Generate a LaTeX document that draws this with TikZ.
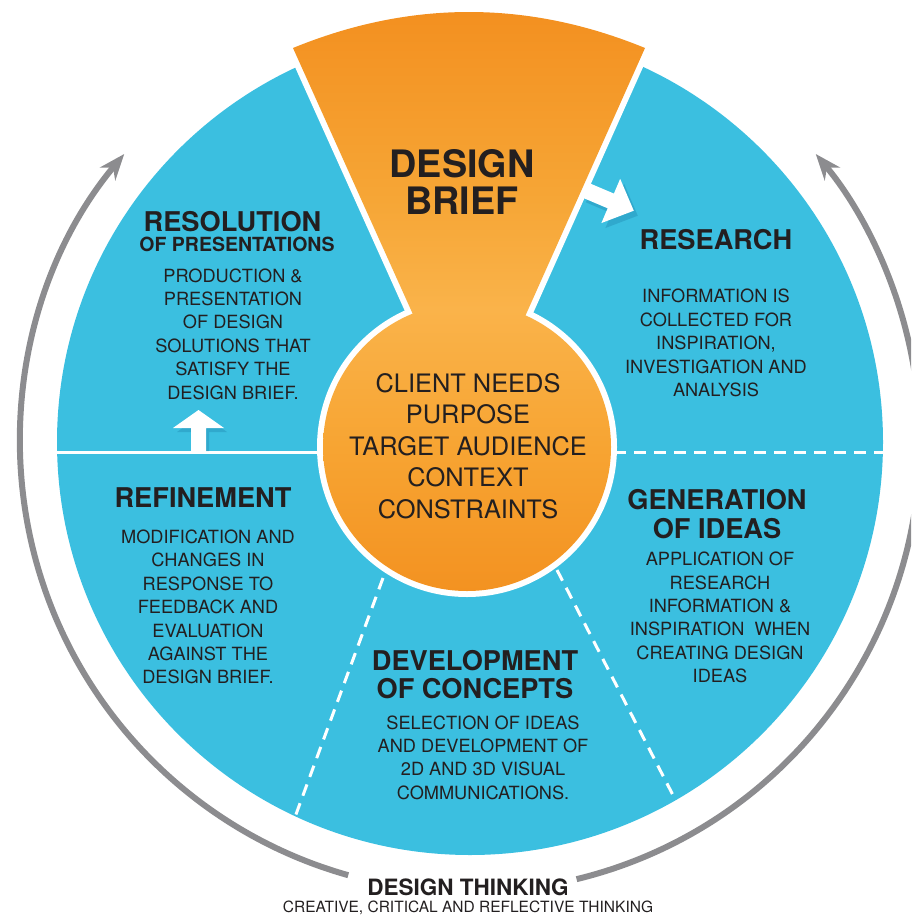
\documentclass[tikz,border=0pt]{standalone}
\usepackage{fontspec}
\setmainfont{TeX Gyre Heros}
\usetikzlibrary{arrows.meta}
\definecolor{cyanbg}{RGB}{59,191,224}
\definecolor{cyanshadow}{RGB}{30,130,170}
\definecolor{txt}{RGB}{35,31,32}
\definecolor{arcgrey}{RGB}{140,140,143}
\definecolor{orA}{RGB}{243,144,32}
\definecolor{orD}{RGB}{246,166,54}
\definecolor{orB}{RGB}{250,179,74}
\definecolor{orM}{RGB}{247,164,50}
\definecolor{orC}{RGB}{243,146,33}
\pgfdeclareverticalshading{orgrad}{100bp}{color(0bp)=(orC); color(25bp)=(orC); color(37.2bp)=(orM); color(49.3bp)=(orB); color(58.8bp)=(orD); color(75bp)=(orA); color(100bp)=(orA)}
\tikzset{
  head/.style={font=\fontsize{27.2}{28.5}\selectfont\bfseries, text=txt, inner sep=0pt, align=center},
  subhead/.style={font=\fontsize{19.5}{21}\selectfont\bfseries, text=txt, inner sep=0pt},
  bigtitle/.style={font=\fontsize{37.8}{37}\selectfont\bfseries, text=txt, inner sep=0pt, align=center},
  body/.style={font=\fontsize{18.2}{23.4}\selectfont, text=txt, inner sep=0pt, align=center},
  core/.style={font=\fontsize{25.4}{31.6}\selectfont, text=txt, inner sep=0pt, align=center},
  dthead/.style={font=\fontsize{22.5}{24}\selectfont\bfseries, text=txt, inner sep=0pt},
  dtsub/.style={font=\fontsize{15.5}{17}\selectfont, text=txt, inner sep=0pt},
  divider/.style={white, line width=3pt},
  dashdiv/.style={white, line width=3pt, dash pattern=on 12pt off 8pt},
  cyclearrow/.style={arcgrey, line width=6pt, -{Stealth[length=26pt,width=20pt]}},
  orshade/.style={shading=orgrad},
  blockarrow/.style={fill=white},
  blockshadow/.style={fill=cyanshadow, opacity=0.35},
}
\begin{document}
\begin{tikzpicture}[x=1pt,y=-1pt]
\useasboundingbox (0,0) rectangle (911,918);
\clip (0,0) rectangle (911,918);
\coordinate (C) at (470,442);
% blue disc
\fill[cyanbg] (C) circle[radius=413];
% dividers
\coordinate (hl) at (57,452);
\coordinate (ol) at (320,452);
\coordinate (or) at (614,452);
\coordinate (hr) at (883,452);
\coordinate (d1a) at (383,578);
\coordinate (d1b) at (295,817);
\coordinate (d2a) at (557,570);
\coordinate (d2b) at (676,801);
\draw[divider] (hl) -- (ol);
\draw[dashdiv] (or) -- (hr);
\draw[dashdiv] (d1a) -- (d1b);
\draw[dashdiv] (d2a) -- (d2b);
% orange funnel + circle: white borders
\draw[white, line width=12pt, line join=miter]
  (293,48) .. controls (410,0) and (528,0) .. (645,48) -- (519,330) -- (420,330) -- cycle;
\draw[white, line width=12pt] (467,447) circle[radius=144];
% right block arrow (brief -> research)
\begin{scope}[shift={(589,195)}, rotate=-23]
  \fill[blockshadow] (0,-8) -- (28,-8) -- (28,-24) -- (53,0) -- (28,24) -- (28,8) -- (0,8) -- cycle;
\end{scope}
\begin{scope}[shift={(585,190)}, rotate=-23]
  \fill[blockarrow] (-8,-8) -- (28,-8) -- (28,-24) -- (53,0) -- (28,24) -- (28,8) -- (-8,8) -- cycle;
\end{scope}
% orange fills
\begin{scope}
  \clip (293,48) .. controls (410,0) and (528,0) .. (645,48) -- (519,330) -- (420,330) -- cycle;
  \shade[orshade] (280,12) rectangle (660,591);
\end{scope}
\begin{scope}
  \clip (467,447) circle[radius=144];
  \shade[orshade] (280,12) rectangle (660,591);
\end{scope}
% up block arrow (refinement -> resolution)
\fill[blockshadow] (195,451) -- (195,432) -- (177,432) -- (202,414) -- (227,432) -- (209,432) -- (209,451) -- cycle;
\fill[blockarrow] (191,452) -- (191,428) -- (173,428) -- (198.5,410) -- (224,428) -- (206,428) -- (206,452) -- cycle;
% outer cycle arrows
\draw[cyclearrow] (C) ++(105.7:450) arc[start angle=105.7, end angle=219.8, radius=450];
\draw[cyclearrow] (C) ++(76.3:450) arc[start angle=76.3, end angle=-39.8, radius=450];
% texts
\node[bigtitle] (brief) at (462,181.5) {DESIGN\\BRIEF};
\node[head] (res) at (232.5,222) {RESOLUTION};
\node[subhead] (ofp) at (237,244) {OF PRESENTATIONS};
\node[body] (resb) at (233,334) {PRODUCTION \&\\PRESENTATION\\OF DESIGN\\SOLUTIONS THAT\\SATISFY THE\\DESIGN BRIEF.};
\node[head] (rsch) at (716,240) {RESEARCH};
\node[body] (rschb) at (716,343) {INFORMATION IS\\COLLECTED FOR\\INSPIRATION,\\INVESTIGATION AND\\ANALYSIS};
\node[core] (needs) at (468,446) {CLIENT NEEDS\\PURPOSE\\TARGET AUDIENCE\\CONTEXT\\CONSTRAINTS};
\node[head] (ref) at (203,498) {REFINEMENT};
\node[body] (refb) at (208,607) {MODIFICATION AND\\CHANGES IN\\RESPONSE TO\\FEEDBACK AND\\EVALUATION\\AGAINST THE\\DESIGN BRIEF.};
\node[head] (gen) at (717,514) {GENERATION\\OF IDEAS};
\node[body] (genb) at (720,617.5) {APPLICATION OF\\RESEARCH\\INFORMATION \&\\INSPIRATION\ \ WHEN\\CREATING DESIGN\\IDEAS};
\node[head] (dev) at (475,674.5) {DEVELOPMENT\\OF CONCEPTS};
\node[body] (devb) at (483,757.5) {SELECTION OF IDEAS\\AND DEVELOPMENT OF\\2D AND 3D VISUAL\\COMMUNICATIONS.};
\node[dthead] (dt) at (468,887) {DESIGN THINKING};
\node[dtsub] (dts) at (468,908) {CREATIVE, CRITICAL AND REFLECTIVE THINKING};
\end{tikzpicture}
\end{document}
